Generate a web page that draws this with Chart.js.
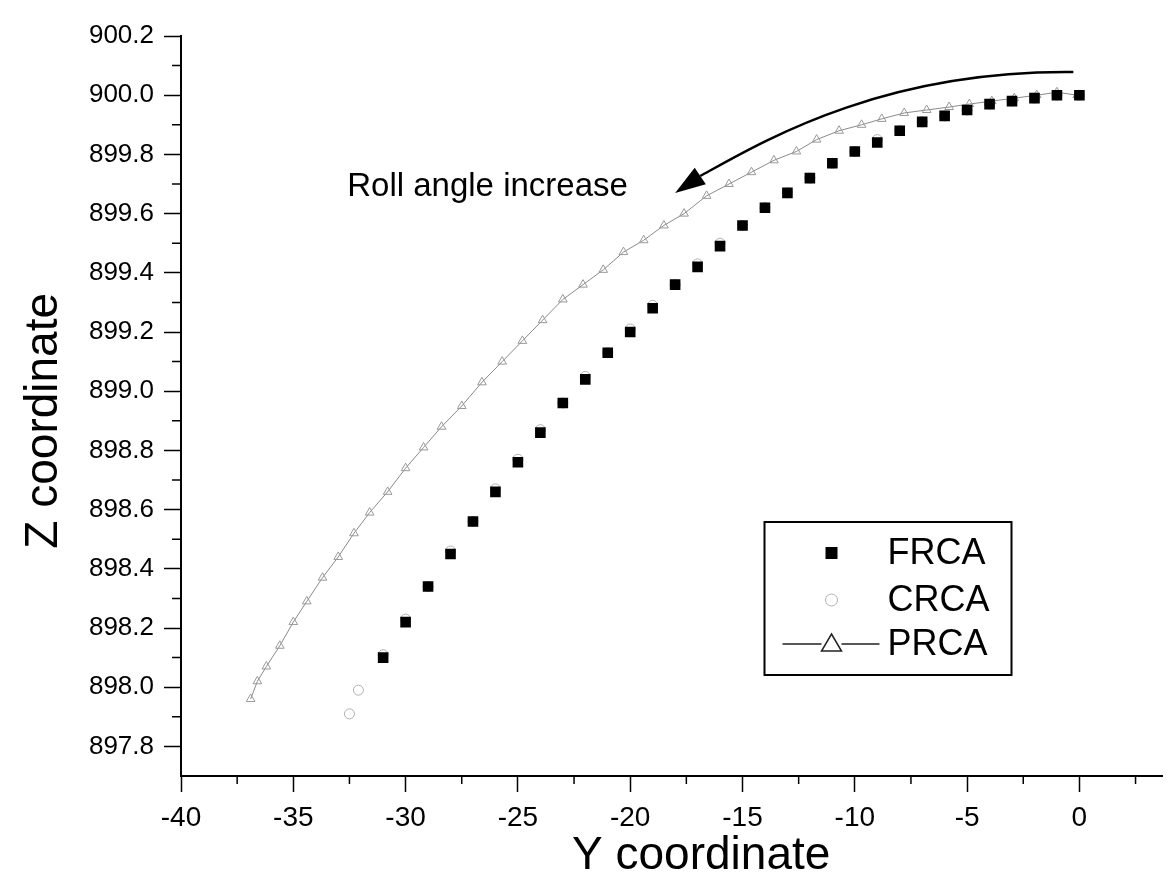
<!DOCTYPE html>
<html>
<head>
<meta charset="utf-8">
<script src="https://cdn.jsdelivr.net/npm/chart.js@4.4.1/dist/chart.umd.min.js"></script>
<style>
  html, body { margin: 0; padding: 0; background: #fff; }
  #wrap { width: 1170px; height: 884px; position: relative; }
</style>
</head>
<body>
<div id="wrap"><canvas id="chart"></canvas></div>
<script>
// series names
var seriesNames = ['FRCA', 'CRCA', 'PRCA'];

// FRCA (filled squares)
var frcaY = [-31, -30, -29, -28, -27, -26, -25, -24, -23, -22, -21, -20, -19, -18, -17, -16,
             -15, -14, -13, -12, -11, -10, -9, -8, -7, -6, -5, -4, -3, -2, -1, 0];
var frcaZ = [898.10, 898.22, 898.34, 898.45, 898.56, 898.66, 898.76, 898.86, 898.96, 899.04, 899.13, 899.20, 899.28, 899.36, 899.42, 899.49,
             899.56, 899.62, 899.67, 899.72, 899.77, 899.81, 899.84, 899.88, 899.91, 899.93, 899.95, 899.97, 899.98, 899.99, 900.00, 900.00];

// CRCA (open circles)
var crcaY = [-32.5, -32.1, -31, -30, -29, -28, -27, -26, -25, -24, -23, -22, -21, -20, -19, -18, -17, -16,
             -15, -14, -13, -12, -11, -10, -9, -8, -7, -6, -5, -4, -3, -2, -1, 0];
var crcaZ = [897.91, 897.99, 898.11, 898.23, 898.34, 898.46, 898.56, 898.67, 898.77, 898.87, 898.96, 899.05, 899.13, 899.21, 899.29, 899.36, 899.43, 899.50,
             899.56, 899.62, 899.67, 899.72, 899.77, 899.81, 899.85, 899.88, 899.91, 899.93, 899.95, 899.97, 899.98, 899.99, 900.00, 900.00];

// PRCA (open triangles with line)
var prcaY = [-36.9, -36.6, -36.2, -35.6, -35.0, -34.4, -33.7, -33.0, -32.3, -31.6, -30.8, -30.0, -29.2, -28.4,
             -27.5, -26.6, -25.7, -24.8, -23.9, -23.0, -22.1, -21.2, -20.3, -19.4, -18.5, -17.6, -16.6, -15.6,
             -14.6, -13.6, -12.6, -11.7, -10.7, -9.7, -8.8, -7.8, -6.8, -5.8, -4.9, -3.9, -2.9, -1.9, -1.0, -0.1];
var prcaZ = [897.96, 898.02, 898.07, 898.14, 898.22, 898.29, 898.37, 898.44, 898.52, 898.59, 898.66, 898.74, 898.81, 898.88,
             898.95, 899.03, 899.10, 899.17, 899.24, 899.31, 899.36, 899.41, 899.47, 899.51, 899.56, 899.60, 899.66, 899.70,
             899.74, 899.78, 899.81, 899.85, 899.88, 899.90, 899.92, 899.94, 899.95, 899.96, 899.97, 899.98, 899.99, 900.00, 900.01, 900.00];

// tick labels
var yCoordTicks = [-40, -35, -30, -25, -20, -15, -10, -5, 0];
var zCoordTicks = [897.8, 898.0, 898.2, 898.4, 898.6, 898.8, 899.0, 899.2, 899.4, 899.6, 899.8, 900.0, 900.2];

// texts
var xTitle = 'Y coordinate';
var yTitle = 'Z coordinate';
var noteText = 'Roll angle increase';

function pts(xs, ys) {
    var out = [];
    for (var i = 0; i < xs.length; i++) {
        out.push({x: xs[i], y: ys[i]});
    }
    return out;
}

var FONT = "'Liberation Sans', Arial, sans-serif";

// arrow + text anchor in data units (Y, Z)
var arrow = {
    start: [-0.27, 900.078], c1: [-8.86, 900.085], c2: [-14.21, 899.839],
    base: [-16.88, 899.727], tip: [-18.0, 899.67]
};
var noteAt = [-32.6, 899.69];

var extras = {
    id: 'extras',
    afterDraw: function(chart) {
        var ctx = chart.ctx;
        var xs = chart.scales.x, ys = chart.scales.y;
        var area = chart.chartArea;
        function P(p) { return [xs.getPixelForValue(p[0]), ys.getPixelForValue(p[1])]; }

        ctx.save();
        // minor ticks
        ctx.strokeStyle = '#000';
        ctx.lineWidth = 1.5;
        ctx.beginPath();
        for (var i = 0; i < yCoordTicks.length; i++) {
            var v = yCoordTicks[i] + 2.5;
            if (v <= xs.max) {
                var px = xs.getPixelForValue(v);
                ctx.moveTo(px, area.bottom);
                ctx.lineTo(px, area.bottom + 8);
            }
        }
        for (var j = 0; j < zCoordTicks.length; j++) {
            var w = zCoordTicks[j] - 0.1;
            if (w >= ys.min) {
                var py = ys.getPixelForValue(w);
                ctx.moveTo(area.left, py);
                ctx.lineTo(area.left - 9, py);
            }
        }
        ctx.stroke();

        // axis titles
        ctx.fillStyle = '#000';
        ctx.font = '46px ' + FONT;
        ctx.textAlign = 'center';
        ctx.textBaseline = 'middle';
        ctx.fillText(xTitle, area.left + 0.53 * (area.right - area.left), 856);
        ctx.save();
        ctx.translate(44, area.top + 0.52 * (area.bottom - area.top));
        ctx.rotate(-Math.PI / 2);
        ctx.fillText(yTitle, 0, 0);
        ctx.restore();

        // curved arrow
        var s = P(arrow.start), c1 = P(arrow.c1), c2 = P(arrow.c2), b = P(arrow.base), t = P(arrow.tip);
        ctx.lineWidth = 2.5;
        ctx.beginPath();
        ctx.moveTo(s[0], s[1]);
        ctx.bezierCurveTo(c1[0], c1[1], c2[0], c2[1], b[0], b[1]);
        ctx.stroke();
        var dx = t[0] - b[0], dy = t[1] - b[1];
        var len = Math.sqrt(dx * dx + dy * dy);
        var nx = -dy / len * 10, ny = dx / len * 10;
        ctx.beginPath();
        ctx.moveTo(t[0], t[1]);
        ctx.lineTo(b[0] + nx, b[1] + ny);
        ctx.lineTo(b[0] - nx, b[1] - ny);
        ctx.closePath();
        ctx.fill();

        // annotation text
        var n = P(noteAt);
        ctx.font = '33px ' + FONT;
        ctx.textAlign = 'left';
        ctx.fillText(noteText, n[0], n[1]);

        // legend box
        var lx = area.right - 398, ly = area.top + 486, lw = 247, lh = 153;
        ctx.lineWidth = 2;
        ctx.strokeRect(lx, ly, lw, lh);
        var rows = [31, 78, 122];
        ctx.font = '36px ' + FONT;
        for (var k = 0; k < seriesNames.length; k++) {
            var ry = ly + rows[k], mx = lx + 67;
            var ds = chart.data.datasets[k];
            if (k === 0) {
                ctx.fillStyle = ds.backgroundColor;
                ctx.fillRect(mx - 6, ry - 6, 12, 12);
            } else if (k === 1) {
                ctx.strokeStyle = ds.borderColor;
                ctx.lineWidth = 1;
                ctx.beginPath();
                ctx.arc(mx, ry, 6, 0, Math.PI * 2);
                ctx.stroke();
            } else {
                ctx.strokeStyle = '#222';
                ctx.lineWidth = 1.5;
                ctx.beginPath();
                ctx.moveTo(lx + 18, ry);
                ctx.lineTo(mx - 10, ry);
                ctx.moveTo(mx + 10, ry);
                ctx.lineTo(lx + 115, ry);
                ctx.stroke();
                ctx.beginPath();
                ctx.moveTo(mx, ry - 10);
                ctx.lineTo(mx + 10, ry + 7);
                ctx.lineTo(mx - 10, ry + 7);
                ctx.closePath();
                ctx.stroke();
            }
            ctx.fillStyle = '#000';
            ctx.textBaseline = 'middle';
            ctx.fillText(seriesNames[k], lx + 123, ry + 1);
        }
        ctx.restore();
    }
};

var ctx = document.getElementById('chart');

var chart = new Chart(ctx, {
    type: 'scatter',
    data: {
        datasets: [{
            label: seriesNames[0],
            data: pts(frcaY, frcaZ),
            showLine: false,
            pointStyle: 'rect',
            pointRadius: 7.5,
            backgroundColor: '#000',
            borderColor: '#000',
            borderWidth: 0
        }, {
            label: seriesNames[1],
            data: pts(crcaY, crcaZ),
            showLine: false,
            pointStyle: 'circle',
            pointRadius: 5,
            backgroundColor: 'rgba(255,255,255,0)',
            borderColor: '#b0b0b0',
            borderWidth: 1
        }, {
            label: seriesNames[2],
            data: pts(prcaY, prcaZ),
            showLine: true,
            borderColor: '#8a8a8a',
            borderWidth: 1,
            pointStyle: 'triangle',
            pointRadius: 5,
            pointBackgroundColor: 'rgba(255,255,255,0)',
            pointBorderColor: '#999',
            pointBorderWidth: 1
        }]
    },
    options: {
        responsive: true,
        maintainAspectRatio: false,
        animation: false,
        events: [],
        layout: { padding: { top: 36, right: 7, left: 0, bottom: 0 } },
        plugins: {
            legend: { display: false },
            tooltip: { enabled: false }
        },
        scales: {
            x: {
                type: 'linear',
                min: -40,
                max: 3.7,
                afterBuildTicks: function(scale) {
                    scale.ticks = yCoordTicks.map(function(v) { return {value: v}; });
                },
                afterFit: function(scale) { scale.height = 108; },
                border: { display: true, color: '#000', width: 2 },
                grid: { drawOnChartArea: false, drawTicks: true, tickLength: 16, color: '#000', tickWidth: 1.5 },
                ticks: {
                    color: '#000',
                    padding: 9,
                    maxRotation: 0,
                    autoSkip: false,
                    font: { family: FONT, size: 28 },
                    callback: function(v) { return String(v); }
                }
            },
            y: {
                type: 'linear',
                min: 897.7,
                max: 900.2,
                afterBuildTicks: function(scale) {
                    scale.ticks = zCoordTicks.map(function(v) { return {value: v}; });
                },
                afterFit: function(scale) { scale.width = 181; },
                border: { display: true, color: '#000', width: 2 },
                grid: { drawOnChartArea: false, drawTicks: true, tickLength: 17, color: '#000', tickWidth: 1.5 },
                ticks: {
                    color: '#000',
                    padding: 10,
                    autoSkip: false,
                    font: { family: FONT, size: 26 },
                    callback: function(v) { return v.toFixed(1); }
                }
            }
        }
    },
    plugins: [extras]
});
</script>
</body>
</html>
